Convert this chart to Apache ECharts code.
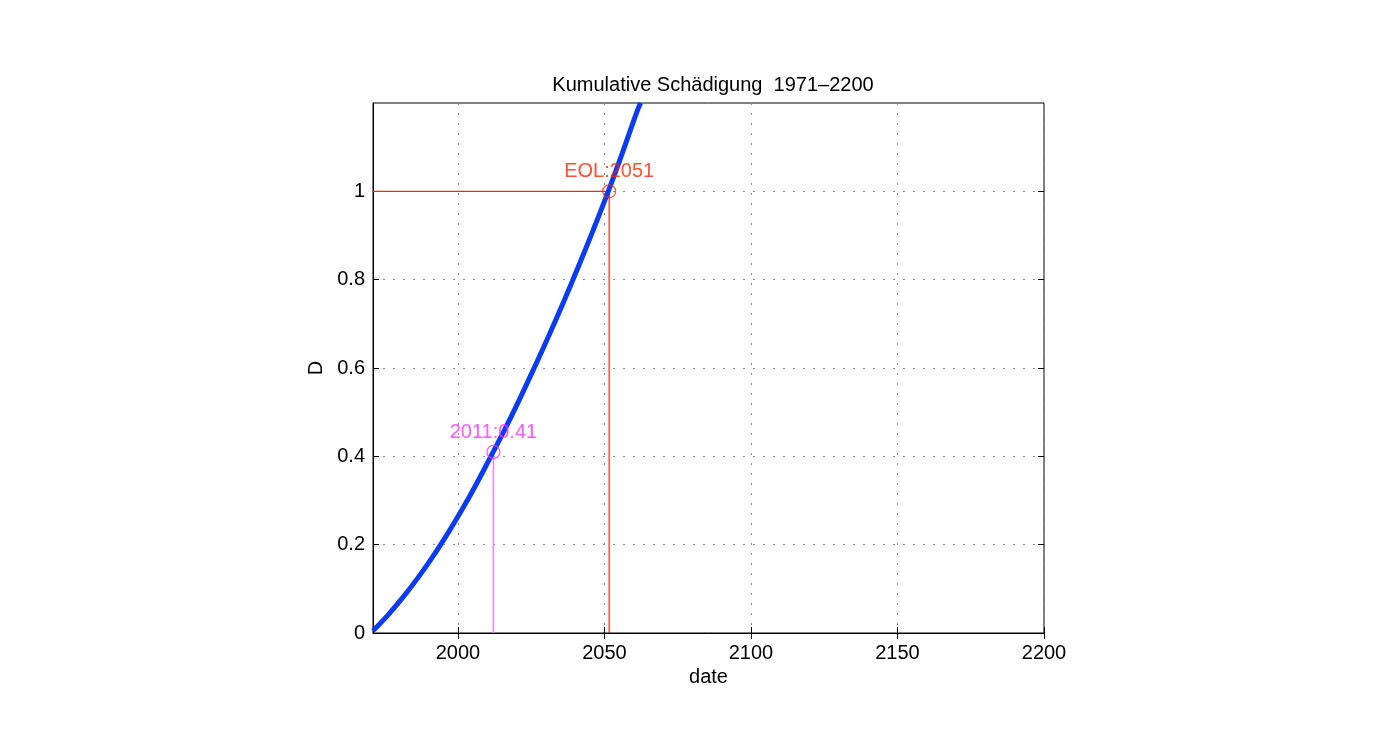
<!DOCTYPE html>
<html>
<head>
<meta charset="utf-8">
<title>Kumulative Schädigung</title>
<script src="https://cdn.jsdelivr.net/npm/echarts@6.0.0/dist/echarts.min.js"></script>
<style>
  html, body { margin: 0; padding: 0; background: #fff; }
  #main { width: 1383px; height: 730px; }
</style>
</head>
<body>
<div id="main"></div>
<script>
// Werte
var years = [1971, 1976, 1981, 1986, 1991, 1996, 2001, 2006, 2011, 2016, 2021, 2026, 2031, 2036, 2041, 2046, 2051, 2056, 2061, 2062.3];
var damage = [0.005, 0.040, 0.079, 0.122, 0.169, 0.220, 0.275, 0.334, 0.397, 0.461, 0.529, 0.600, 0.673, 0.749, 0.828, 0.910, 0.995, 1.085, 1.179, 1.200];

var xTicks = [2000, 2050, 2100, 2150, 2200];
var yTicks = [0, 0.2, 0.4, 0.6, 0.8, 1];

var eolPoint = [2051.6, 1];      // EOL:2051
var nowPoint = [2012.1, 0.41];   // 2011:0.41

var xMin = 1971, xMax = 2200;
var yMin = 0, yMax = 1.2;

var fontName = 'Liberation Sans';
var red = '#ff2400';
var magenta = '#ff2cff';
var blue = '#0a3cf5';

var curve = [];
for (var i = 0; i < years.length; i++) {
    curve.push([years[i], damage[i]]);
}

var chart = echarts.init(document.getElementById('main'));

var option = {
    animation: false,
    backgroundColor: '#fff',
    title: {
        text: 'Kumulative Schädigung  1971\u20132200',
        left: 708,
        top: 70,
        textAlign: 'center',
        textStyle: { fontFamily: fontName, fontSize: 20, fontWeight: 'normal', color: '#000' }
    },
    grid: {
        left: 373,
        top: 103,
        right: 339,
        bottom: 97,
        show: true,
        borderColor: '#000',
        borderWidth: 1,
        backgroundColor: '#fff'
    },
    xAxis: [
        {
            type: 'value',
            min: xMin,
            max: xMax,
            name: 'date',
            nameLocation: 'middle',
            nameGap: 33,
            nameTextStyle: { fontFamily: fontName, fontSize: 20, color: '#000' },
            axisLine: { show: true, onZero: false, lineStyle: { color: '#000', width: 1 } },
            axisTick: { show: true, inside: true, length: 6, customValues: xTicks, lineStyle: { color: '#000' } },
            axisLabel: {
                customValues: xTicks,
                margin: 10,
                fontFamily: fontName,
                fontSize: 20,
                color: '#000',
                formatter: function (v) { return String(v); }
            },
            splitLine: { show: true, lineStyle: { color: '#8c8c8c', type: [2, 8], width: 1 } }
        },
        {
            type: 'value',
            position: 'top',
            min: xMin,
            max: xMax,
            axisLine: { show: false },
            axisTick: { show: true, inside: true, length: 6, customValues: xTicks, lineStyle: { color: '#000' } },
            axisLabel: { show: false },
            splitLine: { show: false }
        }
    ],
    yAxis: [
        {
            type: 'value',
            min: yMin,
            max: yMax,
            name: 'D',
            nameLocation: 'middle',
            nameGap: 47,
            nameRotate: 90,
            nameTextStyle: { fontFamily: fontName, fontSize: 20, color: '#000' },
            axisLine: { show: true, onZero: false, lineStyle: { color: '#000', width: 1 } },
            axisTick: { show: true, inside: true, length: 6, customValues: yTicks, lineStyle: { color: '#000' } },
            axisLabel: {
                customValues: yTicks,
                margin: 8,
                fontFamily: fontName,
                fontSize: 20,
                color: '#000',
                formatter: function (v) { return String(v); }
            },
            splitLine: { show: true, lineStyle: { color: '#8c8c8c', type: [2, 8], width: 1 } }
        },
        {
            type: 'value',
            position: 'right',
            min: yMin,
            max: yMax,
            axisLine: { show: false },
            axisTick: { show: true, inside: true, length: 6, customValues: yTicks, lineStyle: { color: '#000' } },
            axisLabel: { show: false },
            splitLine: { show: false }
        }
    ],
    series: [
        {
            name: 'D',
            type: 'line',
            data: curve,
            smooth: 0.4,
            showSymbol: false,
            clip: true,
            lineStyle: { color: blue, width: 5 },
            z: 4
        },
        {
            name: 'EOL',
            type: 'line',
            data: [[xMin, eolPoint[1]], eolPoint, [eolPoint[0], yMin]],
            showSymbol: false,
            lineStyle: { color: red, width: 1.2 },
            z: 3
        },
        {
            name: 'heute',
            type: 'line',
            data: [nowPoint, [nowPoint[0], yMin]],
            showSymbol: false,
            lineStyle: { color: '#ff80ff', width: 1.5 },
            z: 3
        },
        {
            type: 'scatter',
            data: [eolPoint],
            symbol: 'circle',
            symbolSize: 13,
            itemStyle: { color: 'rgba(0,0,0,0)', borderColor: red, borderWidth: 1.2 },
            label: {
                show: true,
                position: 'top',
                distance: 3,
                formatter: 'EOL:2051',
                fontFamily: fontName,
                fontSize: 20,
                color: red
            },
            z: 5
        },
        {
            type: 'scatter',
            data: [nowPoint],
            symbol: 'circle',
            symbolSize: 13,
            itemStyle: { color: 'rgba(0,0,0,0)', borderColor: magenta, borderWidth: 1.2 },
            label: {
                show: true,
                position: 'top',
                distance: 2,
                formatter: '2011:0.41',
                fontFamily: fontName,
                fontSize: 20,
                color: magenta
            },
            z: 5
        }
    ]
};

chart.setOption(option);
</script>
</body>
</html>
